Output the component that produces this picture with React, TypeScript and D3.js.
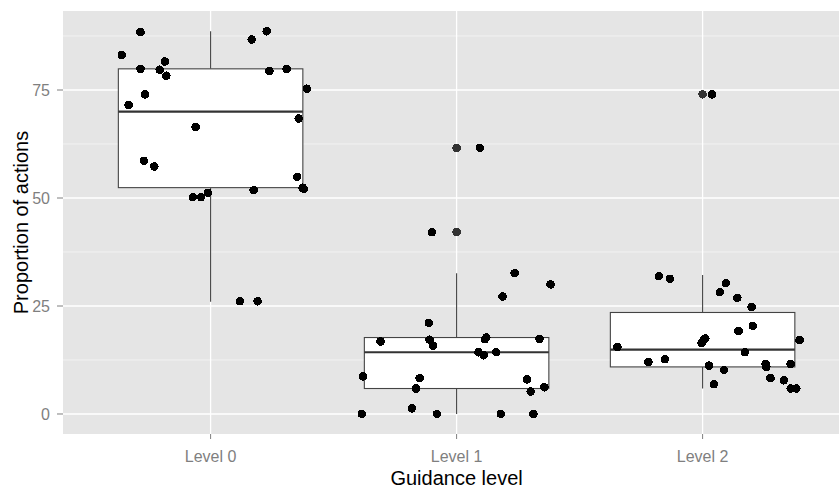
import * as d3 from "d3";

const levels = ["Level 0", "Level 1", "Level 2"];

// jittered observations: value and horizontal jitter (in category units)
const level0Values = [88.4, 83.1, 81.6, 79.9, 79.7, 78.3, 74.0, 71.5, 66.4, 58.6, 57.3, 50.2, 50.2, 51.2, 51.8, 52.1, 52.4, 54.9, 68.4, 75.3, 79.9, 79.4, 86.7, 88.6, 26.1, 26.1];
const level0Jitter = [-0.285, -0.361, -0.186, -0.285, -0.207, -0.18, -0.267, -0.333, -0.061, -0.271, -0.229, -0.072, -0.039, -0.011, 0.175, 0.379, 0.374, 0.352, 0.358, 0.391, 0.309, 0.239, 0.167, 0.228, 0.119, 0.191];

const level1Values = [61.6, 42.1, 32.6, 30.0, 27.2, 21.1, 16.8, 17.2, 15.8, 17.7, 17.3, 17.4, 14.3, 13.6, 14.3, 8.7, 8.3, 5.9, 8.0, 5.2, 6.2, 0, 1.3, 0, 0, 0];
const level1Jitter = [0.095, -0.1, 0.236, 0.382, 0.187, -0.113, -0.309, -0.11, -0.095, 0.121, 0.115, 0.337, 0.089, 0.11, 0.161, -0.381, -0.15, -0.165, 0.286, 0.301, 0.357, -0.385, -0.182, -0.08, 0.18, 0.312];

const level2Values = [74.0, 31.9, 31.3, 30.3, 28.2, 26.9, 24.8, 20.4, 19.2, 17.1, 17.5, 16.4, 17.0, 15.5, 14.3, 12.0, 12.7, 11.2, 10.2, 11.6, 10.9, 11.6, 6.9, 8.3, 7.8, 5.9, 5.9];
const level2Jitter = [0.038, -0.178, -0.133, 0.095, 0.07, 0.141, 0.199, 0.204, 0.146, 0.394, 0.011, -0.004, 0.003, -0.346, 0.172, -0.22, -0.153, 0.026, 0.087, 0.256, 0.259, 0.358, 0.046, 0.276, 0.33, 0.358, 0.381];

// boxplot summaries per level
const lowerWhisker = [26.0, 0, 5.9];
const lowerHinge = [52.4, 5.9, 10.9];
const medians = [70.0, 14.3, 14.9];
const upperHinge = [79.9, 17.7, 23.5];
const upperWhisker = [88.6, 32.6, 32.2];
const outliers = [[], [61.6, 42.1], [74.0]];

const yTicks = [0, 25, 50, 75];
const yMinor = [12.5, 37.5, 62.5, 87.5];

const W = 839;
const H = 488;
const left = 63;
const right = 63 + 3.2 * 246;
const top = 11;
const bottom = 434;
const font = "'Liberation Sans', Arial, sans-serif";

export default function App() {
  const x = d3.scaleLinear().domain([0.4, 3.6]).range([left, right]);
  const y = d3.scaleLinear().domain([-4.63, 93.29]).range([bottom, top]);
  const halfBox = 0.375;

  const points = [
    ...level0Values.map((v, i) => ({ v, xPos: 1 + level0Jitter[i] })),
    ...level1Values.map((v, i) => ({ v, xPos: 2 + level1Jitter[i] })),
    ...level2Values.map((v, i) => ({ v, xPos: 3 + level2Jitter[i] })),
  ];

  return (
    <svg width={W} height={H} style={{ position: "absolute", left: 0, top: 0, fontFamily: font }}>
      <defs>
        <clipPath id="panel">
          <rect x={left} y={top} width={right - left} height={bottom - top} />
        </clipPath>
      </defs>
      <rect x={0} y={0} width={W} height={H} fill="#fff" />
      <rect x={left} y={top} width={right - left} height={bottom - top} fill="#E5E5E5" />
      <g clipPath="url(#panel)">
        {yMinor.map((t) => (
          <line key={"mn" + t} x1={left} x2={right} y1={y(t)} y2={y(t)} stroke="#F2F2F2" strokeWidth={1} />
        ))}
        {yTicks.map((t) => (
          <line key={"mj" + t} x1={left} x2={right} y1={y(t)} y2={y(t)} stroke="#fff" strokeWidth={1.3} />
        ))}
        {levels.map((l, i) => (
          <line key={"vx" + l} x1={x(i + 1)} x2={x(i + 1)} y1={top} y2={bottom} stroke="#fff" strokeWidth={1.3} />
        ))}

        {levels.map((l, i) => {
          const cx = x(i + 1);
          const x0 = x(i + 1 - halfBox);
          const x1 = x(i + 1 + halfBox);
          return (
            <g key={"box" + l}>
              <line x1={cx} x2={cx} y1={y(upperHinge[i])} y2={y(upperWhisker[i])} stroke="#444" strokeWidth={1.1} />
              <line x1={cx} x2={cx} y1={y(lowerHinge[i])} y2={y(lowerWhisker[i])} stroke="#444" strokeWidth={1.1} />
              <rect
                x={x0}
                y={y(upperHinge[i])}
                width={x1 - x0}
                height={y(lowerHinge[i]) - y(upperHinge[i])}
                fill="#fff"
                stroke="#444"
                strokeWidth={1.1}
              />
              <line x1={x0} x2={x1} y1={y(medians[i])} y2={y(medians[i])} stroke="#333" strokeWidth={2.2} />
              {outliers[i].map((o, k) => (
                <circle key={k} cx={cx} cy={y(o)} r={4.3} fill="#333" shapeRendering="crispEdges" />
              ))}
            </g>
          );
        })}

        {points.map((p, i) => (
          <circle key={"pt" + i} cx={x(p.xPos)} cy={y(p.v)} r={4.3} fill="#000" shapeRendering="crispEdges" />
        ))}
      </g>

      {/* y axis */}
      {yTicks.map((t) => (
        <g key={"yt" + t}>
          <line x1={left - 6} x2={left} y1={y(t)} y2={y(t)} stroke="#7F7F7F" strokeWidth={1} />
          <text x={left - 13} y={y(t)} dy="0.36em" textAnchor="end" fontSize={16} fill="#7F7F7F">
            {t}
          </text>
        </g>
      ))}
      {/* x axis */}
      {levels.map((l, i) => (
        <g key={"xt" + l}>
          <line x1={x(i + 1)} x2={x(i + 1)} y1={bottom} y2={bottom + 5} stroke="#7F7F7F" strokeWidth={1} />
          <text x={x(i + 1)} y={462} textAnchor="middle" fontSize={16} fill="#7F7F7F">
            {l}
          </text>
        </g>
      ))}
      <text x={(left + right) / 2} y={485} textAnchor="middle" fontSize={20} fill="#000">
        Guidance level
      </text>
      <text
        transform={`translate(28, ${(top + bottom) / 2}) rotate(-90)`}
        textAnchor="middle"
        fontSize={20}
        fill="#000"
      >
        Proportion of actions
      </text>
    </svg>
  );
}
